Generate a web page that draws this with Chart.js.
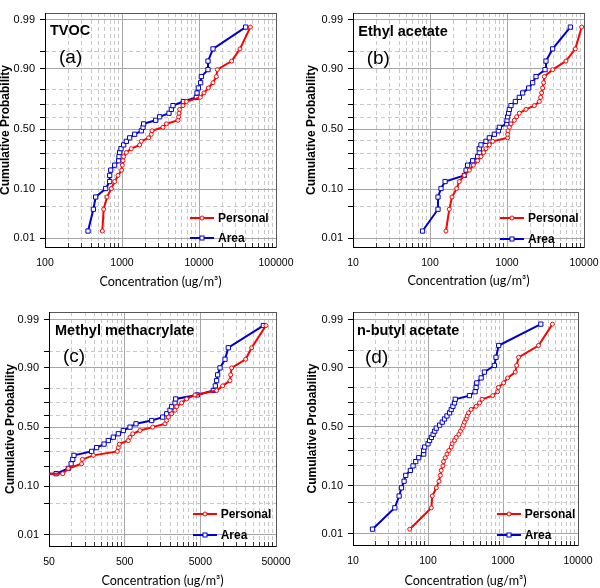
<!DOCTYPE html>
<html>
<head>
<meta charset="utf-8">
<script src="https://cdn.jsdelivr.net/npm/chart.js@4.4.1/dist/chart.umd.min.js"></script>
<style>
  body { margin:0; background:#fff; width:600px; height:588px; overflow:hidden; position:relative;
         font-family:'Liberation Sans', Arial, sans-serif; }
  .panel { position:absolute; width:300px; height:294px; }
  .panel canvas { position:absolute; left:0; top:0; }
  .lbl { position:absolute; white-space:nowrap; color:#000; }
  .leg { position:absolute; display:flex; align-items:center; height:16px;
         font-weight:bold; font-size:12px; white-space:nowrap; color:#000; }
  .leg span { margin-left:4px; }
</style>
</head>
<body>
<div class="panel" style="left:0;top:0"><canvas id="ca" width="300" height="294"></canvas></div>
<div class="panel" style="left:300px;top:0"><canvas id="cb" width="300" height="294"></canvas></div>
<div class="panel" style="left:0;top:294px"><canvas id="cc" width="300" height="294"></canvas></div>
<div class="panel" style="left:300px;top:294px"><canvas id="cd" width="300" height="294"></canvas></div>
<script>
// cumulative probability (plotting positions)
const prob34 = [0.015,0.044,0.074,0.103,0.132,0.162,0.191,0.221,0.250,0.279,0.309,0.338,0.368,0.397,0.426,0.456,0.485,
  0.515,0.544,0.574,0.603,0.632,0.662,0.691,0.721,0.750,0.779,0.809,0.838,0.868,0.897,0.926,0.956,0.985];
const mmaProb = [0.157,0.157,0.186,0.214,0.243,0.271,0.300,0.329,0.357,0.386,0.414,0.443,0.471,0.500,0.529,0.557,
  0.586,0.614,0.643,0.671,0.700,0.729,0.757,0.786,0.814,0.843,0.871,0.900,0.929,0.957,0.986];
const nbaProb = [0.013,0.039,0.066,0.092,0.118,0.145,0.171,0.197,0.224,0.250,0.276,0.303,0.329,0.355,0.382,0.408,0.434,
  0.461,0.487,0.513,0.539,0.566,0.592,0.618,0.645,0.671,0.697,0.724,0.750,0.776,0.803,0.829,0.855,0.882,0.908,0.934,0.961,0.987];

// concentrations (ug/m3)
const tvocPersonal = [555,578,639,727,803,887,990,1010,1030,1051,1139,1322,1696,1782,2218,2404,2453,3406,3765,5335,
  5445,5500,5610,6200,6850,10400,11610,13220,15200,16800,17310,26570,34060,46400];
const tvocArea = [362,425,455,614,692,692,713,803,905,914,933,971,1051,1139,1258,1460,1782,1875,1910,2737,3085,4077,
  4371,4592,6263,9230,9420,9800,10510,10720,13090,13090,15200,40370];
const ethylPersonal = [161,178,193,222,240,279,324,366,416,459,498,533,590,652,1020,1020,1030,1072,1127,1245,1335,1446,
  1765,2264,2630,2735,2818,2904,2992,3055,3917,5834,7709,9330];
const ethylArea = [80,127,127,139,157,279,294,308,358,416,437,437,459,533,590,685,771,795,991,1000,1020,1051,1072,1127,
  1283,1446,1597,1911,2154,2382,3119,3207,3917,6650];
const mmaPersonal = [40,76,90,135,138,193,400,412,425,559,588,638,797,1172,1706,1795,1889,2091,2313,2432,2831,3297,4253,
  8220,9860,12330,12590,12970,19860,23830,36870];
const mmaArea = [40,62,90,98,103,107,183,213,267,304,354,412,480,588,706,1138,1589,1795,1987,2091,2313,2360,4563,7430,
  7890,8220,8470,9100,10600,11720,34000];
const nbaPersonal = [57.1,111,114,129,140,146,150,158,161,170,179,190,204,210,226,238,258,271,286,297,307,323,333,347,
  376,438,485,526,729,849,867,1021,1153,1459,1518,1614,2974,4564];
const nbaArea = [18.2,36.1,41.2,44.3,48.0,50.5,58.2,63.2,68.6,75.2,87.6,87.6,90.3,100,105,111,117,123,129,143,155,166,
  179,194,204,215,226,231,357,425,438,447,511,565,767,807,876,3194];

// tick values and labels
const yMajorProb = [0.01,0.1,0.5,0.9,0.99];
const yTickLabels = ['0.01','0.10','0.50','0.90','0.99'];
const yMinorProb = [0.05,0.2,0.3,0.4,0.6,0.7,0.8,0.95];
const xTicksDec100 = [100,1000,10000,100000];
const xLabelsDec100 = ['100','1000','10000','100000'];
const xTicksDec10 = [10,100,1000,10000];
const xLabelsDec10 = ['10','100','1000','10000'];
const xTicksDec50 = [50,500,5000,50000];
const xLabelsDec50 = ['50','500','5000','50000'];

const FONT = "'Liberation Sans', Arial, sans-serif";
const RED = '#ff0000', BLUE = '#0000cc';

// inverse normal cdf (Acklam) for the probability axis
function probit(p) {
  const a = [-3.969683028665376e+01, 2.209460984245205e+02, -2.759285104469687e+02, 1.383577518672690e+02, -3.066479806614716e+01, 2.506628277459239e+00];
  const b = [-5.447609879822406e+01, 1.615858368580409e+02, -1.556989798598866e+02, 6.680131188771972e+01, -1.328068155288572e+01];
  const c = [-7.784894002430293e-03, -3.223964580411365e-01, -2.400758277161838e+00, -2.549732539343734e+00, 4.374664141464968e+00, 2.938163982698783e+00];
  const d = [7.784695709041462e-03, 3.224671290700398e-01, 2.445134137142996e+00, 3.754408661907416e+00];
  const lo = 0.02425;
  if (p < lo) {
    const q = Math.sqrt(-2 * Math.log(p));
    return (((((c[0]*q+c[1])*q+c[2])*q+c[3])*q+c[4])*q+c[5]) / ((((d[0]*q+d[1])*q+d[2])*q+d[3])*q+1);
  }
  if (p > 1 - lo) return -probit(1 - p);
  const q = p - 0.5, r = q * q;
  return (((((a[0]*r+a[1])*r+a[2])*r+a[3])*r+a[4])*r+a[5])*q / (((((b[0]*r+b[1])*r+b[2])*r+b[3])*r+b[4])*r+1);
}

function minorOf(majors) {
  const out = [];
  for (let i = 0; i < majors.length - 1; i++)
    for (let k = 2; k <= 9; k++) out.push(majors[i] * k);
  return out;
}

const panels = [
  { canvas:'ca', box:{l:45,t:13,r:276,b:247}, yr:[-2.51,2.47],
    xTicks:xTicksDec100, xLabels:xLabelsDec100, prob:prob34, personal:tvocPersonal, area:tvocArea,
    name:'TVOC', tag:'(a)', nameAt:[50,30.7], tagAt:[59,56], legAt:[190,217.7], yPad:0, xPad:5.8 },
  { canvas:'cb', box:{l:53,t:13,r:284,b:247}, yr:[-2.51,2.47],
    xTicks:xTicksDec10, xLabels:xLabelsDec10, prob:prob34, personal:ethylPersonal, area:ethylArea,
    name:'Ethyl acetate', tag:'(b)', nameAt:[58.3,31], tagAt:[66.7,57], legAt:[200,218.3], yPad:5.5, xPad:6.5 },
  { canvas:'cc', box:{l:49,t:18,r:276,b:252}, yr:[-2.57,2.49],
    xTicks:xTicksDec50, xLabels:xLabelsDec50, prob:mmaProb, personal:mmaPersonal, area:mmaArea,
    name:'Methyl methacrylate', tag:'(c)', nameAt:[55,36.7], tagAt:[63,61], legAt:[192.7,220.3], yPad:4.5, xPad:0.5 },
  { canvas:'cd', box:{l:53,t:18,r:278,b:251}, yr:[-2.57,2.49],
    xTicks:xTicksDec10, xLabels:xLabelsDec10, prob:nbaProb, personal:nbaPersonal, area:nbaArea,
    name:'n-butyl acetate', tag:'(d)', nameAt:[57,36.7], tagAt:[65,62.7], legAt:[196.7,220.3], yPad:6.5, xPad:0.5 }
];

const yAllProb = yMajorProb.concat(yMinorProb).sort((a, b) => a - b);

function series(label, xs, ps, color, style, radius) {
  return {
    label, data: xs.map((x, i) => ({ x, y: probit(ps[i]) })),
    borderColor: color, borderWidth: 2, fill: false, tension: 0,
    pointStyle: style, pointRadius: radius, pointBorderWidth: 1,
    pointBorderColor: color, pointBackgroundColor: '#fff'
  };
}

function legendItem(parent, x, y, color, shape, text) {
  const el = document.createElement('div');
  el.className = 'leg';
  el.style.left = x + 'px';
  el.style.top = (y - 8) + 'px';
  const mark = shape === 'circle'
    ? `<circle cx="12" cy="8" r="2" fill="#fff" stroke="${color}" stroke-width="1"/>`
    : `<rect x="10" y="6" width="4" height="4" fill="#fff" stroke="${color}" stroke-width="1"/>`;
  el.innerHTML = `<svg width="24" height="16"><line x1="0" y1="8" x2="24" y2="8" stroke="${color}" stroke-width="2"/>${mark}</svg><span>${text}</span>`;
  parent.appendChild(el);
}

function label(parent, text, x, cy, size, bold) {
  const el = document.createElement('div');
  el.className = 'lbl';
  el.textContent = text;
  el.style.left = x + 'px';
  el.style.top = (cy - size / 2) + 'px';
  el.style.fontSize = size + 'px';
  el.style.lineHeight = size + 'px';
  el.style.fontWeight = bold ? 'bold' : 'normal';
  parent.appendChild(el);
}

panels.forEach(P => {
  const H = 294, W = 300;
  const xMinor = minorOf(P.xTicks);
  const xMin = P.xTicks[0], xMax = P.xTicks[P.xTicks.length - 1];
  new Chart(document.getElementById(P.canvas), {
    type: 'line',
    data: { datasets: [
      series('Personal', P.personal, P.prob, RED, 'circle', 2),
      series('Area', P.area, P.prob, BLUE, 'rect', 3)
    ] },
    options: {
      responsive: false, animation: false,
      layout: { padding: { left: 0, top: P.box.t, right: W - P.box.r, bottom: 0 } },
      plugins: { legend: { display: false }, tooltip: { enabled: false } },
      scales: {
        x: {
          type: 'logarithmic', position: 'bottom', min: xMin, max: xMax, weight: 1,
          afterBuildTicks: s => { s.ticks = P.xTicks.map(v => ({ value: v })); },
          afterFit: s => { s.height = H - P.box.b; },
          ticks: { autoSkip: false, maxRotation: 0, padding: 0, color: '#000',
                   font: { family: FONT, size: 10.5 }, callback: (v, i) => P.xLabels[i] },
          grid: { color: '#a6a6a6', drawTicks: true, tickLength: 10, tickColor: 'rgba(0,0,0,0)' },
          border: { color: '#000', width: 1 },
          title: { display: true, text: 'Concentration (ug/m³)', color: '#000',
                   font: { family: 'Lato', size: 12.6, lineHeight: 1 }, padding: { top: 0, bottom: P.xPad } }
        },
        xMinor: {
          type: 'logarithmic', position: 'bottom', min: xMin, max: xMax, weight: -1,
          afterBuildTicks: s => { s.ticks = xMinor.map(v => ({ value: v })); },
          afterFit: s => { s.height = 0; },
          ticks: { display: false },
          grid: { color: '#c8c8c8', drawTicks: true, tickLength: -4, tickColor: '#333', borderDash: [4, 3] },
          border: { display: false, dash: [4, 3] }
        },
        xTop: {
          type: 'linear', position: 'top', min: 0, max: 1,
          afterFit: s => { s.height = 0; },
          ticks: { display: false }, grid: { display: false },
          border: { color: '#555', width: 1 }
        },
        y: {
          type: 'linear', position: 'left', min: P.yr[0], max: P.yr[1], weight: 1,
          afterBuildTicks: s => { s.ticks = yAllProb.map(p => ({ value: probit(p) })); },
          afterFit: s => { s.width = P.box.l; },
          ticks: { autoSkip: false, padding: 5, color: '#000', font: { family: FONT, size: 11 },
                   callback: (v, i) => { const k = yMajorProb.indexOf(yAllProb[i]); return k >= 0 ? yTickLabels[k] : ''; } },
          grid: { color: c => yMajorProb.includes(yAllProb[c.index]) ? '#a6a6a6' : 'rgba(0,0,0,0)',
                  tickColor: '#000', tickLength: 5 },
          border: { color: '#000', width: 1 },
          title: { display: true, text: 'Cumulative Probability', color: '#000',
                   font: { family: FONT, size: 12, weight: 'bold', lineHeight: 1 }, padding: { top: P.yPad, bottom: 0 } }
        },
        yMinor: {
          type: 'linear', position: 'left', min: P.yr[0], max: P.yr[1], weight: -1,
          afterBuildTicks: s => { s.ticks = yMinorProb.map(p => ({ value: probit(p) })); },
          afterFit: s => { s.width = 0; },
          ticks: { display: false },
          grid: { color: '#c8c8c8', drawTicks: false, borderDash: [4, 3] },
          border: { display: false, dash: [4, 3] }
        },
        yRight: {
          type: 'linear', position: 'right', min: 0, max: 1,
          afterFit: s => { s.width = 0; },
          ticks: { display: false }, grid: { display: false },
          border: { color: '#555', width: 1 }
        }
      }
    }
  });
  const host = document.getElementById(P.canvas).parentNode;
  label(host, P.name, P.nameAt[0], P.nameAt[1], 14.5, true);
  label(host, P.tag, P.tagAt[0], P.tagAt[1], 19, false);
  legendItem(host, P.legAt[0], P.legAt[1], RED, 'circle', 'Personal');
  legendItem(host, P.legAt[0], P.legAt[1] + 20.6, BLUE, 'rect', 'Area');
});
</script>
</body>
</html>
